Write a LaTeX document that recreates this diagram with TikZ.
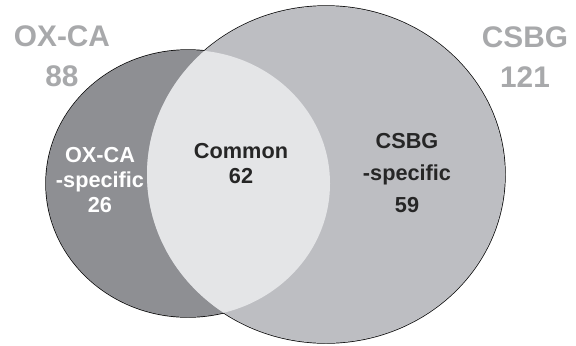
\documentclass[tikz,border=0pt]{standalone}
\usepackage{fontspec}
\setmainfont{Liberation Sans}
\usepackage[HTML]{xcolor}
\usepackage{tikz}

\definecolor{oxgray}{HTML}{8E8F93}
\definecolor{csgray}{HTML}{BDBEC2}
\definecolor{comgray}{HTML}{E4E5E7}
\definecolor{titlegray}{HTML}{A8A9AB}

\tikzset{
  title/.style={text=titlegray, align=center, inner sep=0pt,
    font=\fontsize{14.9}{20}\selectfont\bfseries},
  inner/.style={align=center, inner sep=0pt,
    font=\fontsize{10.85}{12.5}\selectfont\bfseries}
}

\begin{document}
\begin{tikzpicture}[x=1pt,y=1pt]
\useasboundingbox (0,0) rectangle (288,172.5);

% outlines first, the fills cover the inner arcs
\draw[line width=0.7pt] (94,80.75) ellipse [x radius=71pt, y radius=66.75pt];
\draw[line width=0.7pt] (163,85.25) ellipse [x radius=89.5pt, y radius=84.25pt];
\fill[oxgray] (94,80.75) ellipse [x radius=71pt, y radius=66.75pt];
\fill[csgray] (163,85.25) ellipse [x radius=89.5pt, y radius=84.25pt];
\begin{scope}
\clip (94,80.75) ellipse [x radius=71pt, y radius=66.75pt];
\fill[comgray] (163,85.25) ellipse [x radius=89.5pt, y radius=84.25pt];
\end{scope}

\node[title] (oxca) at (31,144.25) {OX-CA\\88};
\node[title] (csbg) at (262.5,144) {CSBG\\121};

\node[inner, text=white] (oxcaspec) at (50,82.25) {OX-CA\\-specific\\26};
\node[inner, text=black!85] (common) at (120.5,90.5) {Common\\62};
\node[inner, text=black!85, font=\fontsize{10.85}{16}\selectfont\bfseries]
  (csbgspec) at (203.5,85.75) {CSBG\\-specific\\59};
\end{tikzpicture}
\end{document}
